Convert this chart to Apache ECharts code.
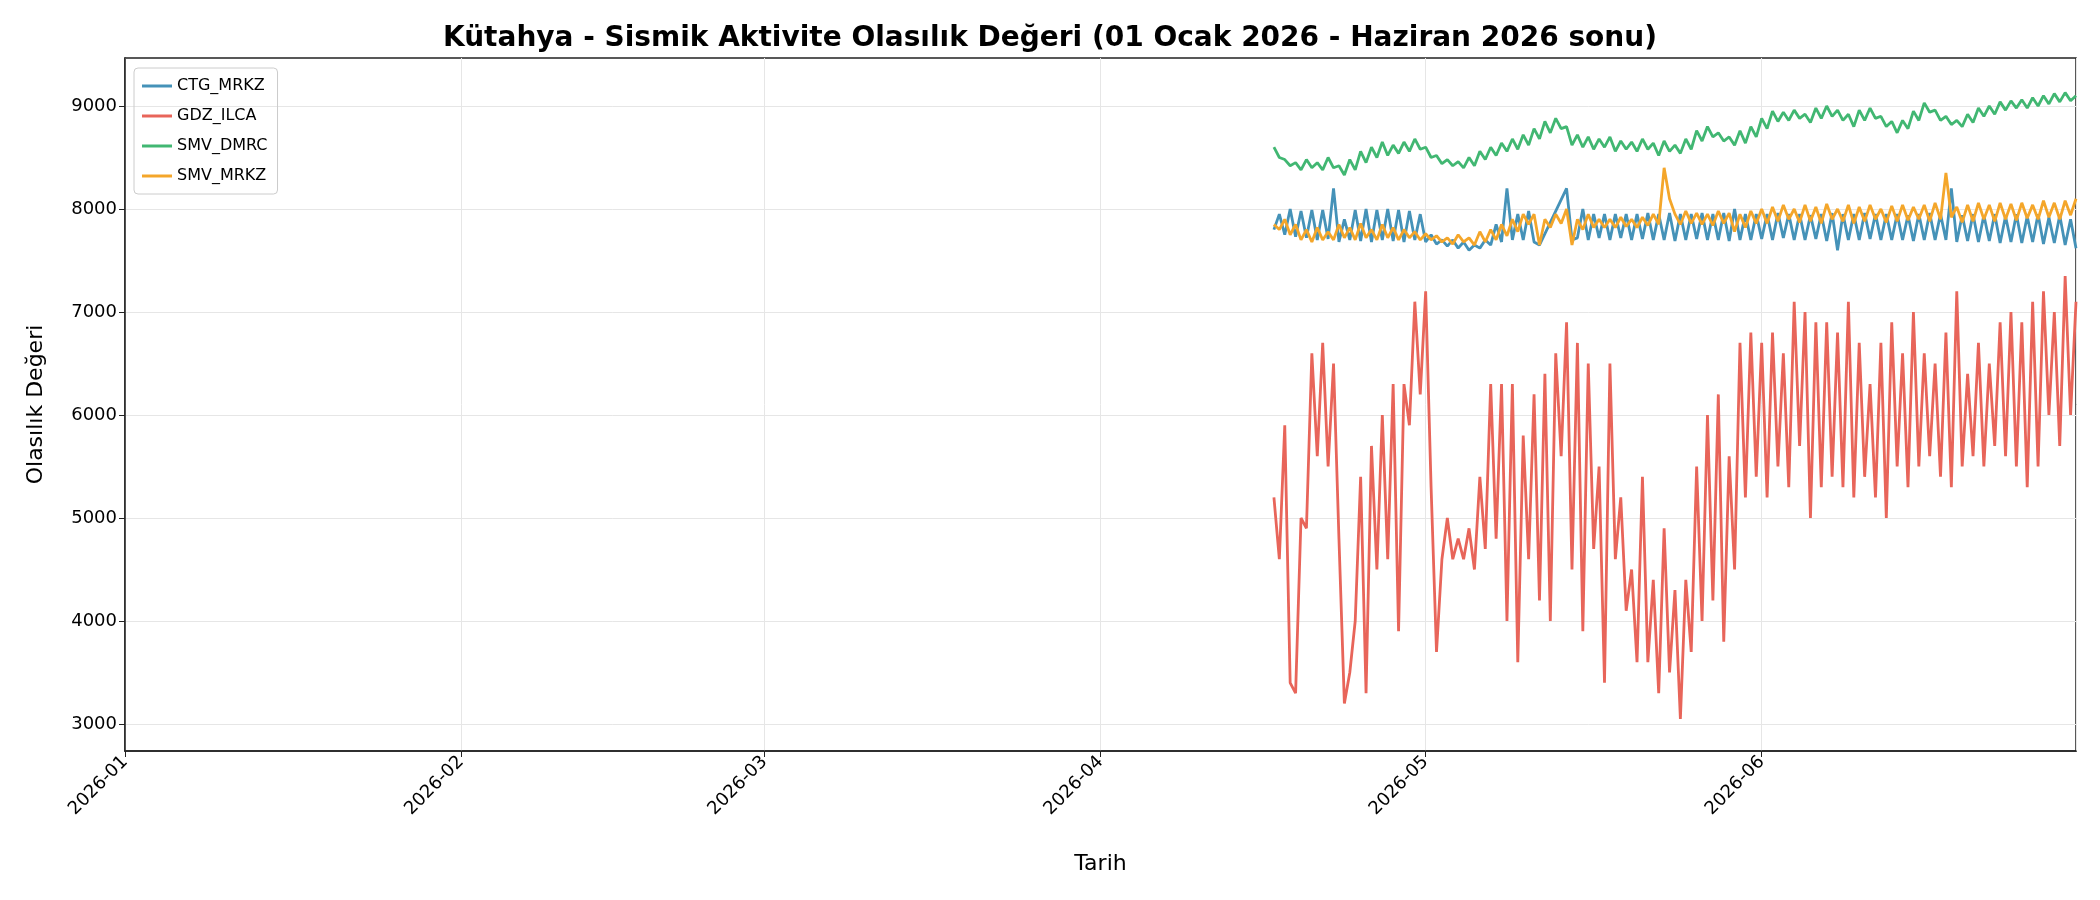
<!DOCTYPE html>
<html><head><meta charset="utf-8">
<script src="https://cdn.jsdelivr.net/npm/echarts@6/dist/echarts.min.js"></script>
<style>html,body{margin:0;padding:0;background:#fff}#c{width:2100px;height:900px}</style>
</head><body><div id="c"></div>
<script>
const seriesNames = ['CTG_MRKZ','GDZ_ILCA','SMV_DMRC','SMV_MRKZ'];
const startDate = '2026-04-17T00:00:00';
const stepHours = 12;
const yTicks = [3000,4000,5000,6000,7000,8000,9000];
const CTG_MRKZ = [7800,7950,7750,8000,7730,7980,7720,7990,7700,7990,7710,8200,7680,7900,7700,7990,7690,8000,7680,7990,7700,8000,7690,7990,7680,7980,7700,7950,
7680,7750,7660,7700,7640,7700,7620,7680,7600,7650,7620,7700,7650,7850,7680,8200,7700,7950,7700,7980,7680,7650,null,null,null,null,8200,7700,7720,8000,7700,7950,7720,7950,7700,7950,7720,7950,7700,7950,7710,7960,7700,7950,7700,7960,7690,7950,7700,7950,7710,7960,7700,7950,7700,7960,7690,8000,7700,7950,7700,7950,
7710,7950,7700,7960,7720,7950,7700,7950,7700,7940,7710,7950,7690,7960,7600,7950,7700,7950,7700,7960,7710,7950,7700,7950,7700,7950,7700,7940,7690,7950,7700,7960,7700,7950,7700,8200,7680,7940,7690,7950,7680,7940,7690,7950,7670,7930,7680,7950,7670,7930,7680,7950,7660,7920,7670,7940,7650,7900,7620];
const GDZ_ILCA = [5200,4600,5900,3400,3300,5000,4900,6600,5600,6700,5500,6500,4800,3200,3500,4000,5400,3300,5700,4500,6000,4600,6300,3900,6300,5900,7100,6200,
7200,5300,3700,4600,5000,4600,4800,4600,4900,4500,5400,4700,6300,4800,6300,4000,6300,3600,5800,4600,6200,4200,6400,4000,6600,5600,6900,4500,6700,3900,6500,4700,5500,3400,6500,4600,5200,4100,4500,3600,5400,3600,4400,3300,4900,3500,4300,3050,4400,3700,5500,4000,6000,4200,6200,3800,5600,4500,6700,5200,6800,5400,
6700,5200,6800,5500,6600,5300,7100,5700,7000,5000,6900,5300,6900,5400,6800,5300,7100,5200,6700,5400,6300,5200,6700,5000,6900,5500,6600,5300,7000,5500,6600,5600,6500,5400,6800,5300,7200,5500,6400,5600,6700,5500,6500,5700,6900,5600,7000,5500,6900,5300,7100,5500,7200,6000,7000,5700,7350,6000,7100];
const SMV_DMRC = [8600,8500,8480,8420,8450,8380,8480,8400,8450,8380,8500,8400,8420,8330,8480,8380,8560,8450,8600,8500,8650,8520,8620,8540,8650,8560,8680,8580,
8600,8500,8520,8440,8480,8420,8460,8400,8500,8420,8560,8480,8600,8520,8640,8560,8680,8580,8720,8620,8780,8680,8850,8740,8880,8780,8800,8620,8720,8600,8700,8580,8680,8600,8700,8560,8660,8580,8650,8560,8680,8580,8640,8520,8660,8560,8620,8540,8680,8580,8760,8660,8800,8700,8740,8660,8700,8620,8760,8640,8800,8700,
8880,8780,8950,8850,8940,8860,8960,8880,8920,8840,8980,8880,9000,8900,8960,8860,8920,8800,8960,8860,8980,8880,8900,8800,8850,8740,8860,8780,8950,8860,9030,8940,8960,8860,8900,8820,8860,8800,8920,8840,8980,8900,9000,8920,9040,8960,9050,8980,9060,8980,9080,9000,9100,9020,9120,9040,9130,9050,9100];
const SMV_MRKZ = [7850,7800,7900,7750,7850,7700,7800,7680,7820,7700,7780,7700,7850,7720,7820,7700,7860,7720,7800,7700,7850,7720,7820,7700,7800,7720,7780,7700,
7760,7700,7740,7680,7720,7660,7750,7680,7720,7650,7780,7680,7800,7700,7850,7740,7900,7780,7950,7850,7950,7650,7900,7820,7950,7860,8000,7650,7900,7800,7950,7820,7900,7820,7900,7820,7920,7830,7900,7820,7920,7840,7950,7850,8400,8100,7950,7850,7980,7860,7960,7850,7950,7840,7980,7860,7960,7780,7950,7820,7980,7860,
8000,7860,8020,7880,8040,7900,8000,7870,8040,7880,8020,7860,8050,7900,8000,7880,8040,7860,8020,7880,8040,7900,8000,7870,8030,7880,8040,7890,8020,7900,8040,7880,8060,7900,8350,7920,8020,7870,8040,7880,8060,7900,8040,7880,8060,7900,8050,7890,8060,7910,8040,7900,8080,7920,8060,7900,8080,7940,8100];
const colors = ['#4592b8','#e8655a','#41b772','#f4a62a'];
const t0 = new Date(startDate).getTime();
function toPairs(arr){return arr.map((v,i)=>[t0+i*stepHours*3600000,v]);}
const allData=[CTG_MRKZ,GDZ_ILCA,SMV_DMRC,SMV_MRKZ];
const chart = echarts.init(document.getElementById('c'));
chart.setOption({
  animation:false,
  backgroundColor:'#fff',
  title:{text:'Kütahya - Sismik Aktivite Olasılık Değeri (01 Ocak 2026 - Haziran 2026 sonu)',left:'center',top:20,
    textStyle:{fontFamily:'DejaVu Sans',fontSize:28,fontWeight:'bold',color:'#000'}},
  legend:{data:seriesNames,orient:'vertical',left:134,top:68,itemWidth:30,itemHeight:3,itemGap:14,
    icon:'rect',borderColor:'#ccc',borderWidth:1,borderRadius:4,padding:[10,10,10,8],
    textStyle:{fontFamily:'DejaVu Sans',fontSize:16,color:'#000'}},
  grid:{left:125,right:24,top:58,bottom:149,show:true,borderColor:'#222',borderWidth:1.5},
  xAxis:{type:'time',min:'2026-01-01',max:'2026-06-30',minInterval:28*86400000,maxInterval:31*86400000,
    name:'Tarih',nameLocation:'middle',nameGap:102,nameTextStyle:{fontFamily:'DejaVu Sans',fontSize:22,color:'#000'},
    axisLine:{lineStyle:{color:'#222',width:1.5}},axisTick:{show:true,length:6,lineStyle:{color:'#222'}},
    axisLabel:{rotate:45,fontFamily:'DejaVu Sans',fontSize:18,color:'#000',formatter:'{yyyy}-{MM}',hideOverlap:false},
    splitLine:{show:true,lineStyle:{color:'#e6e6e6'}}},
  yAxis:{type:'value',min:2738,max:9466,
    name:'Olasılık Değeri',nameLocation:'middle',nameGap:78,nameTextStyle:{fontFamily:'DejaVu Sans',fontSize:22,color:'#000'},
    axisLine:{show:true,lineStyle:{color:'#222',width:1.5}},
    axisTick:{show:true,length:6,customValues:yTicks,lineStyle:{color:'#222'}},
    axisLabel:{fontFamily:'DejaVu Sans',fontSize:18,color:'#000',customValues:yTicks,formatter:v=>String(v)},
    splitLine:{show:true,lineStyle:{color:'#e6e6e6'}}},
  series:seriesNames.map((n,k)=>({name:n,type:'line',data:toPairs(allData[k]),showSymbol:false,symbol:'none',
    connectNulls:true,color:colors[k],lineStyle:{width:2.8,color:colors[k]},z:k===1?1:2}))
});
</script></body></html>
